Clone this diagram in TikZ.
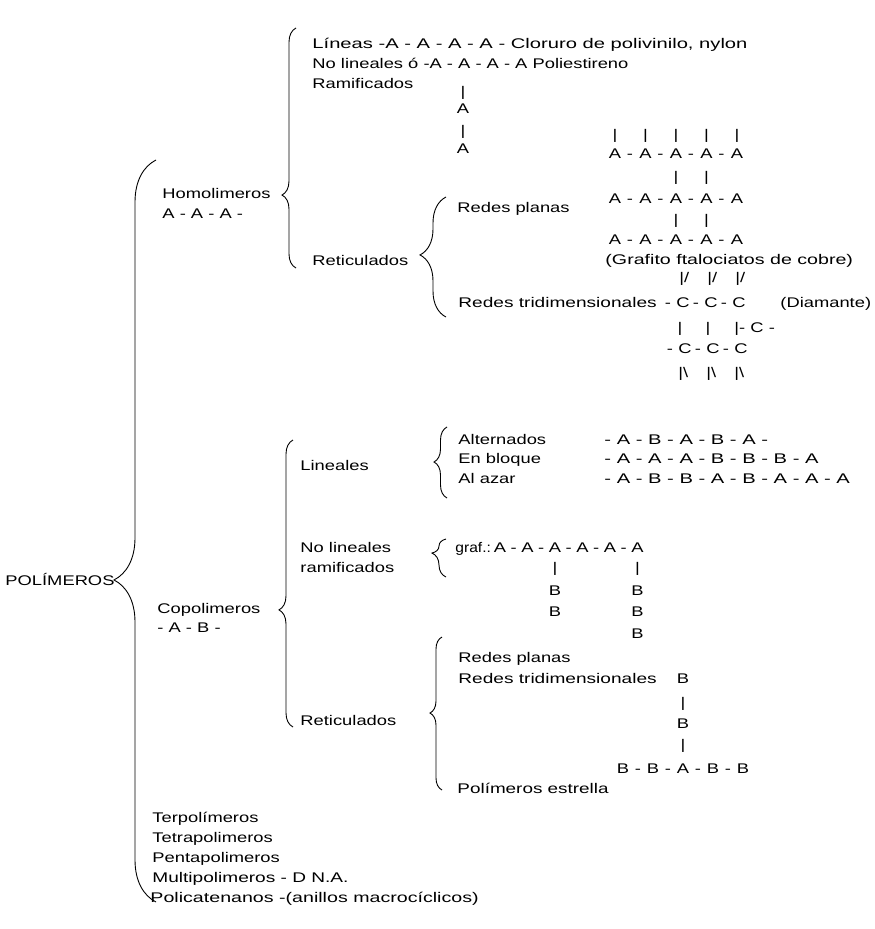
\documentclass[tikz,border=0pt]{standalone}
\usepackage{fontspec}
\setmainfont{Liberation Sans}[FakeStretch=1.31]
\usetikzlibrary{decorations.pathreplacing,positioning}

\begin{document}
\begin{tikzpicture}
[x=1pt, y=-1pt, line width=0.9pt,
every node/.style={font=\fontsize{14}{17}\selectfont, inner sep=0pt},
label0/.style={anchor=base west},
bond/.style={anchor=base},
curly/.style 2 args={decorate, decoration={brace, amplitude=#1, aspect=#2}}
]
\useasboundingbox (0,0) rectangle (875,929);

\node[label0] (polimeros) at (5,585) {POLÍMEROS};
\draw[curly={42pt}{0.434}] (156,902) -- (156,160);

\node[label0] (homolimeros) at (162,198) {Homolimeros};
\node[label0] (homochain) at (162,218) {A - A - A -};
\draw[curly={14pt}{0.304}] (296,268) -- (296,28);

\node[label0] (lineas) at (312,48) {\scalebox{1.1}[1]{Líneas -A - A - A - A - Cloruro de polivinilo, nylon}};
\node[label0] (nolineales) at (312,68) {No lineales ó -A - A - A - A Poliestireno};
\node[label0] (ramificados) at (312,88) {Ramificados};
\node[bond] (rbar1) at (463,96) {|};
\node[bond] (ra1) at (463,113) {A};
\node[bond] (rbar2) at (463,135) {|};
\node[bond] (ra2) at (463,153) {A};

\node[label0] (reticulados) at (312,265) {Reticulados};
\draw[curly={26pt}{0.517}] (446,317) -- (446,197);
\node[label0] (redesplanas) at (457,212) {Redes planas};

\foreach \k in {0,...,4}
  \node[bond] (gbar\k) at (615+30.5*\k,139) {|};
\foreach \r/\yy in {1/158,2/203,3/244}{
  \foreach \k in {0,...,4}
    \node[bond] (a\r\k) at (615+30.5*\k,\yy) {A};
  \foreach \k in {0,...,3}
    \node[bond] (d\r\k) at (630+30.5*\k,\yy) {-};
}
\foreach \yy/\r in {181/1,224/2}
  \foreach \k in {2,3}
    \node[bond] (hbar\r\k) at (615+30.5*\k,\yy) {|};
\node[label0] (grafito) at (605,264) {\scalebox{1.07}[1]{(Grafito ftalociatos de cobre)}};

\node[label0] (redestri) at (458,307) {\scalebox{1.04}[1]{Redes tridimensionales}};
\foreach \k in {0,1,2}{
  \node[anchor=base west] (up\k) at (679+28*\k,282) {|/};
  \node[bond] (dc\k) at (668+28*\k,307) {-};
  \node[bond] (c\k) at (683+28*\k,307) {C};
  \node[bond] (lc\k) at (670+28*\k,353) {-};
  \node[bond] (cc\k) at (685+28*\k,353) {C};
  \node[anchor=base west] (dn\k) at (678+28*\k,377) {|\textbackslash};
}
\node[bond] (mbar0) at (680,332) {|};
\node[bond] (mbar1) at (708,332) {|};
\node[label0] (mbar2) at (734,332) {|- C -};
\node[label0] (diamante) at (780,307) {(Diamante)};

\node[label0] (copolimeros) at (157,613) {Copolimeros};
\node[label0] (copochain) at (157,632) {- A - B -};
\draw[curly={14pt}{0.408}] (293,727) -- (293,440);

\node[label0] (lineales) at (300,470) {Lineales};
\draw[curly={13pt}{0.507}] (447,498) -- (447,427);
\node[label0] (alternados) at (458,444) {Alternados};
\node[label0] (enbloque) at (458,463) {En bloque};
\node[label0] (alazar) at (458,483) {Al azar};
\node[label0] (altchain) at (604,444) {\scalebox{1.1}[1]{- A - B - A - B - A -}};
\node[label0] (bloqchain) at (604,463) {\scalebox{1.1}[1]{- A - A - A - B - B - B - A}};
\node[label0] (azarchain) at (604,483) {\scalebox{1.1}[1]{- A - B - B - A - B - A - A - A}};

\node[label0] (nolineales2) at (300,552) {No lineales};
\node[label0] (ramificados2) at (300,572) {ramificados};
\draw[curly={14pt}{0.63}] (446,577) -- (446,539);
\node[label0] (graf) at (455,552) {\scalebox{0.85}[1]{graf.:}};
\foreach \k in {0,...,5}
  \node[bond] (ga\k) at (500+27.5*\k,552) {A};
\foreach \k in {0,...,4}
  \node[bond] (gd\k) at (513.75+27.5*\k,552) {-};
\node[bond] (gbar) at (555,572) {|};
\node[bond] (gb1) at (555,595) {B};
\node[bond] (gb2) at (555,616) {B};
\node[bond] (hbar) at (637.5,572) {|};
\node[bond] (hb1) at (637.5,595) {B};
\node[bond] (hb2) at (637.5,616) {B};
\node[bond] (hb3) at (637.5,638) {B};

\node[label0] (reticulados2) at (300,725) {Reticulados};
\draw[curly={12pt}{0.503}] (442,790) -- (442,637);
\node[label0] (redesplanas2) at (458,662) {Redes planas};
\node[label0] (redestri2) at (458,683) {\scalebox{1.04}[1]{Redes tridimensionales}};
\node[label0] (estrella) at (457,793) {\scalebox{1.03}[1]{Polímeros estrella}};
\node[bond] (sb1) at (683,683) {B};
\node[bond] (sbar1) at (683,707) {|};
\node[bond] (sb2) at (683,728) {B};
\node[bond] (sbar2) at (683,749) {|};
\foreach \k/\t in {0/B,1/B,2/A,3/B,4/B}
  \node[bond] (s\k) at (623+30*\k,773) {\t};
\foreach \k in {0,...,3}
  \node[bond] (sd\k) at (638+30*\k,773) {-};

\node[label0] (terpolimeros) at (152,822) {Terpolímeros};
\node[label0] (tetrapolimeros) at (152,842) {Tetrapolimeros};
\node[label0] (pentapolimeros) at (152,862) {Pentapolimeros};
\node[label0] (multipolimeros) at (152,882) {\scalebox{1.04}[1]{Multipolimeros - D N.A.}};
\node[label0] (policatenanos) at (150,902) {\scalebox{1.07}[1]{Policatenanos -(anillos macrocíclicos)}};
\end{tikzpicture}
\end{document}
